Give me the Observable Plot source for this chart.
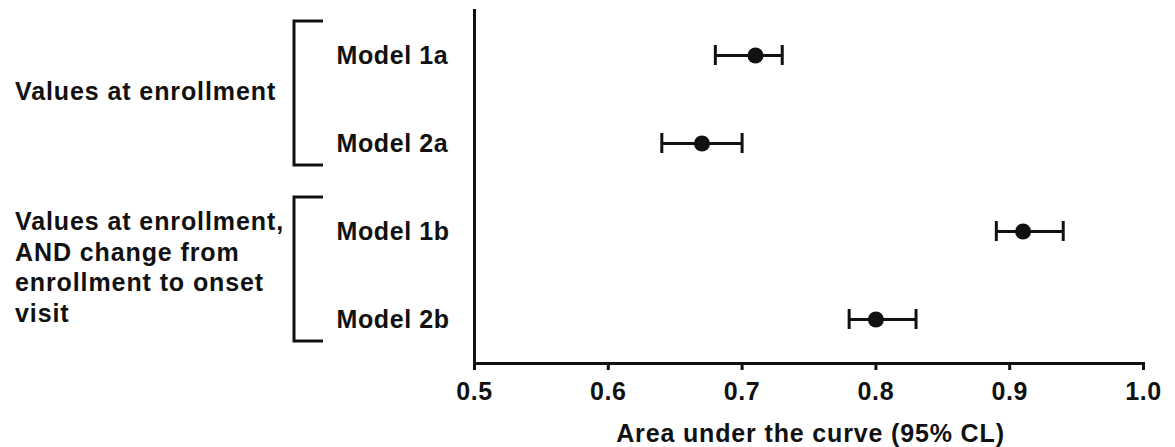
<!DOCTYPE html>
<html><head><meta charset="utf-8">
<script src="https://cdn.jsdelivr.net/npm/d3@7"></script>
<script src="https://cdn.jsdelivr.net/npm/@observablehq/plot@0.6"></script>
<style>
html,body{margin:0;padding:0;background:#fff;}
</style></head><body><div id="chart"></div>
<script>
const models = ["Model 1a", "Model 2a", "Model 1b", "Model 2b"];
const auc = [0.71, 0.67, 0.91, 0.80];
const lower = [0.68, 0.64, 0.89, 0.78];
const upper = [0.73, 0.70, 0.94, 0.83];
const groupLabels = [
  ["Values at enrollment"],
  ["Values at enrollment,", "AND change from", "enrollment to onset", "visit"]
];
const groupMembers = [["Model 1a", "Model 2a"], ["Model 1b", "Model 2b"]];
const xTicks = [0.5, 0.6, 0.7, 0.8, 0.9, 1.0];
const xLabel = "Area under the curve (95% CL)";

const data = models.map((m, i) => ({model: m, auc: auc[i], lo: lower[i], hi: upper[i]}));
const font = '"Liberation Sans", Arial, Helvetica, sans-serif';

const plot = Plot.plot({
  width: 1175, height: 447,
  marginLeft: 474, marginRight: 32, marginTop: 10, marginBottom: 84,
  style: {fontFamily: font, fontWeight: "bold", fontSize: "24px", color: "#111", background: "#fff", letterSpacing: "0.6px"},
  x: {domain: [0.5, 1]},
  y: {type: "band", domain: models, padding: 0},
  marks: [
    Plot.frame({anchor: "left", strokeWidth: 3, stroke: "#111"}),
    Plot.frame({anchor: "bottom", strokeWidth: 3, stroke: "#111"}),
    Plot.axisX({ticks: xTicks, tickFormat: d3.format(".1f"), tickSize: 7, strokeWidth: 3, tickPadding: 12,
      fontSize: 25, label: null}),
    Plot.axisY({tickSize: 0, tickPadding: 138, textAnchor: "start", fontSize: 25, label: null}),
    Plot.ruleY(data, {y: "model", x1: "lo", x2: "hi", strokeWidth: 3, stroke: "#111"}),
    Plot.tickX(data, {x: "lo", y: "model", strokeWidth: 3, stroke: "#111", insetTop: 34, insetBottom: 34}),
    Plot.tickX(data, {x: "hi", y: "model", strokeWidth: 3, stroke: "#111", insetTop: 34, insetBottom: 34}),
    Plot.dot(data, {x: "auc", y: "model", r: 8, fill: "#111", stroke: "none"})
  ]
});

const svg = d3.select(plot);
const g = svg.append("g").attr("text-anchor", "start").attr("fill", "#111");

// x axis title, centred under the frame using the x scale
const xs = plot.scale("x");
const xMid = (xs.apply(xs.domain[0]) + xs.apply(xs.domain[1])) / 2;
g.append("text")
  .attr("x", xMid + 2).attr("y", 442)
  .attr("text-anchor", "middle")
  .attr("font-size", 25).attr("font-weight", "bold")
  .style("letter-spacing", "0.85px")
  .text(xLabel);

// group brackets and labels, positioned from the plot's y scale
const ys = plot.scale("y");
const center = m => ys.apply(m) + ys.bandwidth / 2;
groupMembers.forEach((members, k) => {
  const top = center(members[0]) - 34;
  const bottom = center(members[members.length - 1]) + 22;
  g.append("path")
    .attr("d", `M323,${top}H294V${bottom}H323`)
    .attr("fill", "none").attr("stroke", "#111").attr("stroke-width", 3);
  const lines = groupLabels[k];
  const mid = (top + bottom) / 2;
  const lh = 30.5;
  const first = mid - (lines.length - 1) * lh / 2 + 7;
  const t = g.append("text")
    .attr("x", 15).attr("y", first)
    .attr("text-anchor", "start")
    .attr("font-size", 25).attr("font-weight", "bold")
    .style("letter-spacing", "0.9px");
  lines.forEach((line, j) => {
    t.append("tspan").attr("x", 15).attr("y", first + j * lh).text(line);
  });
});

document.getElementById("chart").appendChild(plot);
</script>
</body></html>
